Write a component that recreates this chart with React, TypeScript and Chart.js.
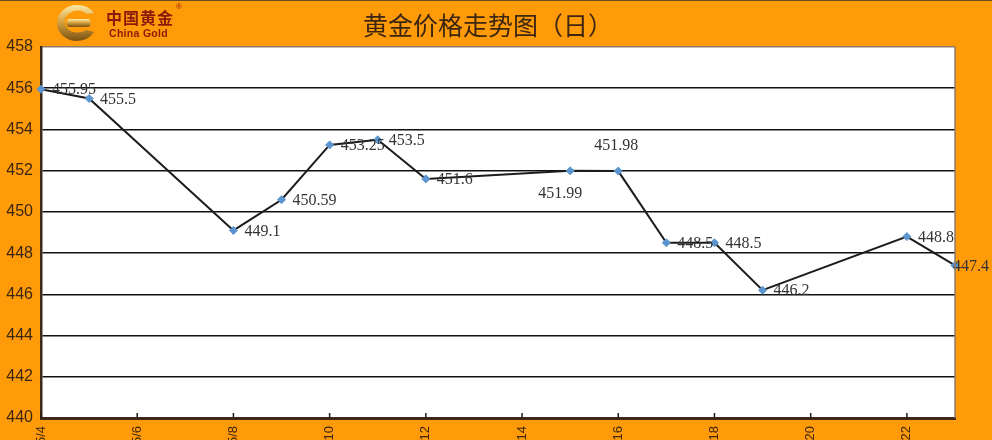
import React, { useEffect, useRef } from 'react';
import { Chart, registerables } from 'chart.js';

Chart.register(...registerables);

const chartTitle = '黄金价格走势图（日）';
const month = '5';
const days = [4, 5, 8, 9, 10, 11, 12, 15, 16, 17, 18, 19, 22, 23];
const prices = [455.95, 455.5, 449.1, 450.59, 453.25, 453.5, 451.6, 451.99, 451.98, 448.5, 448.5, 446.2, 448.8, 447.4];
const priceLabels = ['455.95', '455.5', '449.1', '450.59', '453.25', '453.5', '451.6', '451.99', '451.98', '448.5', '448.5', '446.2', '448.8', '447.4'];
const labelPlacement = ['right', 'right', 'right', 'right', 'right', 'right', 'right', 'below', 'above', 'right', 'right', 'right', 'right', 'edge'];
const tickDays = [4, 6, 8, 10, 12, 14, 16, 18, 20, 22];
const yMin = 440;
const yMax = 458;
const yStep = 2;

const ORANGE = '#ff9a08';
const DARK = '#3b2611';

const areaPlugin = {
  id: 'areaPlugin',
  beforeDraw(chart: any) {
    const { ctx, chartArea: a } = chart;
    ctx.save();
    ctx.fillStyle = '#ffffff';
    ctx.fillRect(a.left, a.top, a.right - a.left, a.bottom - a.top);
    ctx.restore();
  },
  afterDraw(chart: any) {
    const { ctx, chartArea: a } = chart;
    ctx.save();
    ctx.strokeStyle = '#8c7b6b';
    ctx.lineWidth = 1.5;
    ctx.beginPath();
    ctx.moveTo(a.right, a.top);
    ctx.lineTo(a.right, a.bottom);
    ctx.stroke();
    const xs = chart.scales.x;
    ctx.strokeStyle = '#2a1a0a';
    ctx.lineWidth = 1.5;
    xs.ticks.forEach((t: any) => {
      const px = xs.getPixelForValue(t.value);
      ctx.beginPath();
      ctx.moveTo(px, a.bottom - 5);
      ctx.lineTo(px, a.bottom);
      ctx.stroke();
    });
    ctx.restore();
  },
};

const valueLabelPlugin = {
  id: 'valueLabelPlugin',
  afterDatasetsDraw(chart: any) {
    const { ctx } = chart;
    const meta = chart.getDatasetMeta(0);
    ctx.save();
    ctx.font = '16px "Liberation Serif", serif';
    ctx.fillStyle = '#333333';
    meta.data.forEach((el: any, i: number) => {
      const place = labelPlacement[i];
      const txt = priceLabels[i];
      ctx.textBaseline = 'middle';
      if (place === 'below') {
        ctx.textAlign = 'center';
        ctx.fillText(txt, el.x - 10, el.y + 23);
      } else if (place === 'above') {
        ctx.textAlign = 'center';
        ctx.fillText(txt, el.x - 2, el.y - 25);
      } else if (place === 'edge') {
        ctx.textAlign = 'left';
        ctx.fillText(txt, el.x - 2, el.y + 1);
      } else {
        ctx.textAlign = 'left';
        ctx.fillText(txt, el.x + 11, el.y + 1);
      }
    });
    ctx.restore();
  },
};

export default function App() {
  const ref = useRef<HTMLCanvasElement>(null);

  useEffect(() => {
    if (!ref.current) return;
    const chart = new Chart(ref.current, {
      type: 'line',
      data: {
        datasets: [
          {
            data: days.map((d, i) => ({ x: d, y: prices[i] })),
            borderColor: '#1c1c1c',
            borderWidth: 2,
            tension: 0,
            pointStyle: 'rectRot',
            pointRadius: 4,
            pointBackgroundColor: '#5b95d0',
            pointBorderColor: '#5b95d0',
            pointBorderWidth: 1,
            clip: false as any,
          },
        ],
      },
      options: {
        responsive: true,
        maintainAspectRatio: false,
        animation: false,
        layout: { padding: { left: 0, right: 37, top: 47, bottom: 0 } },
        plugins: {
          legend: { display: false },
          tooltip: { enabled: false },
          title: { display: false },
        },
        scales: {
          x: {
            type: 'linear',
            min: days[0],
            max: days[days.length - 1],
            afterBuildTicks: (s: any) => {
              s.ticks = tickDays.map((v) => ({ value: v }));
            },
            afterFit: (s: any) => {
              s.height = 22;
            },
            grid: { display: true, drawOnChartArea: false, drawTicks: false },
            border: { display: true, color: '#3b2a1a', width: 3 },
            ticks: {
              minRotation: 90,
              maxRotation: 90,
              autoSkip: false,
              padding: 8,
              color: DARK,
              font: { family: '"Liberation Sans", sans-serif', size: 13 },
              callback: (v: any) => `${month}/${v}`,
            },
          },
          y: {
            min: yMin,
            max: yMax,
            afterFit: (s: any) => {
              s.width = 41;
            },
            grid: {
              color: (c: any) => (c.tick && c.tick.value === yMax ? '#8c7b6b' : '#111111'),
              lineWidth: 1.5,
              drawTicks: false,
            },
            border: { display: true, color: '#3b2a1a', width: 2.5 },
            ticks: {
              stepSize: yStep,
              padding: 8,
              color: DARK,
              font: { family: '"Liberation Sans", sans-serif', size: 16 },
            },
          },
        },
      },
      plugins: [areaPlugin, valueLabelPlugin],
    });
    return () => chart.destroy();
  }, []);

  return (
    <div
      style={{
        position: 'fixed',
        left: 0,
        top: 0,
        width: 992,
        height: 440,
        background: ORANGE,
        overflow: 'hidden',
      }}
    >
      <div style={{ position: 'absolute', left: 0, top: 0, width: 992, height: 440 }}>
        <canvas ref={ref} />
      </div>
      <div style={{ position: 'absolute', left: 0, top: 0, width: 992, height: 1, background: '#6a4a20' }} />
      <div
        style={{
          position: 'absolute',
          left: 0,
          top: 8,
          width: 976,
          textAlign: 'center',
          fontFamily: '"Noto Sans CJK SC", sans-serif',
          fontSize: 25,
          lineHeight: '32px',
          color: DARK,
        }}
      >
        {chartTitle}
      </div>
      <svg
        style={{ position: 'absolute', left: 56, top: 4 }}
        width={42}
        height={38}
        viewBox="0 0 42 38"
      >
        <defs>
          <linearGradient id="gold" x1="0" y1="0" x2="0" y2="1">
            <stop offset="0" stopColor="#fbe9a8" />
            <stop offset="0.45" stopColor="#d9a441" />
            <stop offset="1" stopColor="#7a5212" />
          </linearGradient>
        </defs>
        <path
          fillRule="evenodd"
          fill="url(#gold)"
          d="M21 1 A20 18 0 1 0 21 37 A20 18 0 0 0 38 28 L30 26 A13 11 0 1 1 31 10 L38 9 A20 18 0 0 0 21 1 Z"
        />
        <path fill="url(#gold)" d="M12 15 L33 15 L35 19 L33 23 L12 23 L10 19 Z" />
      </svg>
      <div
        style={{
          position: 'absolute',
          left: 106,
          top: 7,
          fontFamily: '"Noto Sans CJK SC", sans-serif',
          fontWeight: 'bold',
          fontSize: 16,
          letterSpacing: 1,
          lineHeight: '20px',
          color: '#8a1a0c',
        }}
      >
        中国黄金
      </div>
      <div
        style={{
          position: 'absolute',
          left: 176,
          top: 2,
          fontFamily: '"Liberation Sans", sans-serif',
          fontSize: 8,
          color: '#8a1a0c',
        }}
      >
        ®
      </div>
      <div
        style={{
          position: 'absolute',
          left: 109,
          top: 27,
          fontFamily: '"Liberation Sans", sans-serif',
          fontWeight: 'bold',
          fontSize: 10.5,
          lineHeight: '12px',
          color: '#8a1a0c',
          letterSpacing: 0.3,
        }}
      >
        China Gold
      </div>
    </div>
  );
}
